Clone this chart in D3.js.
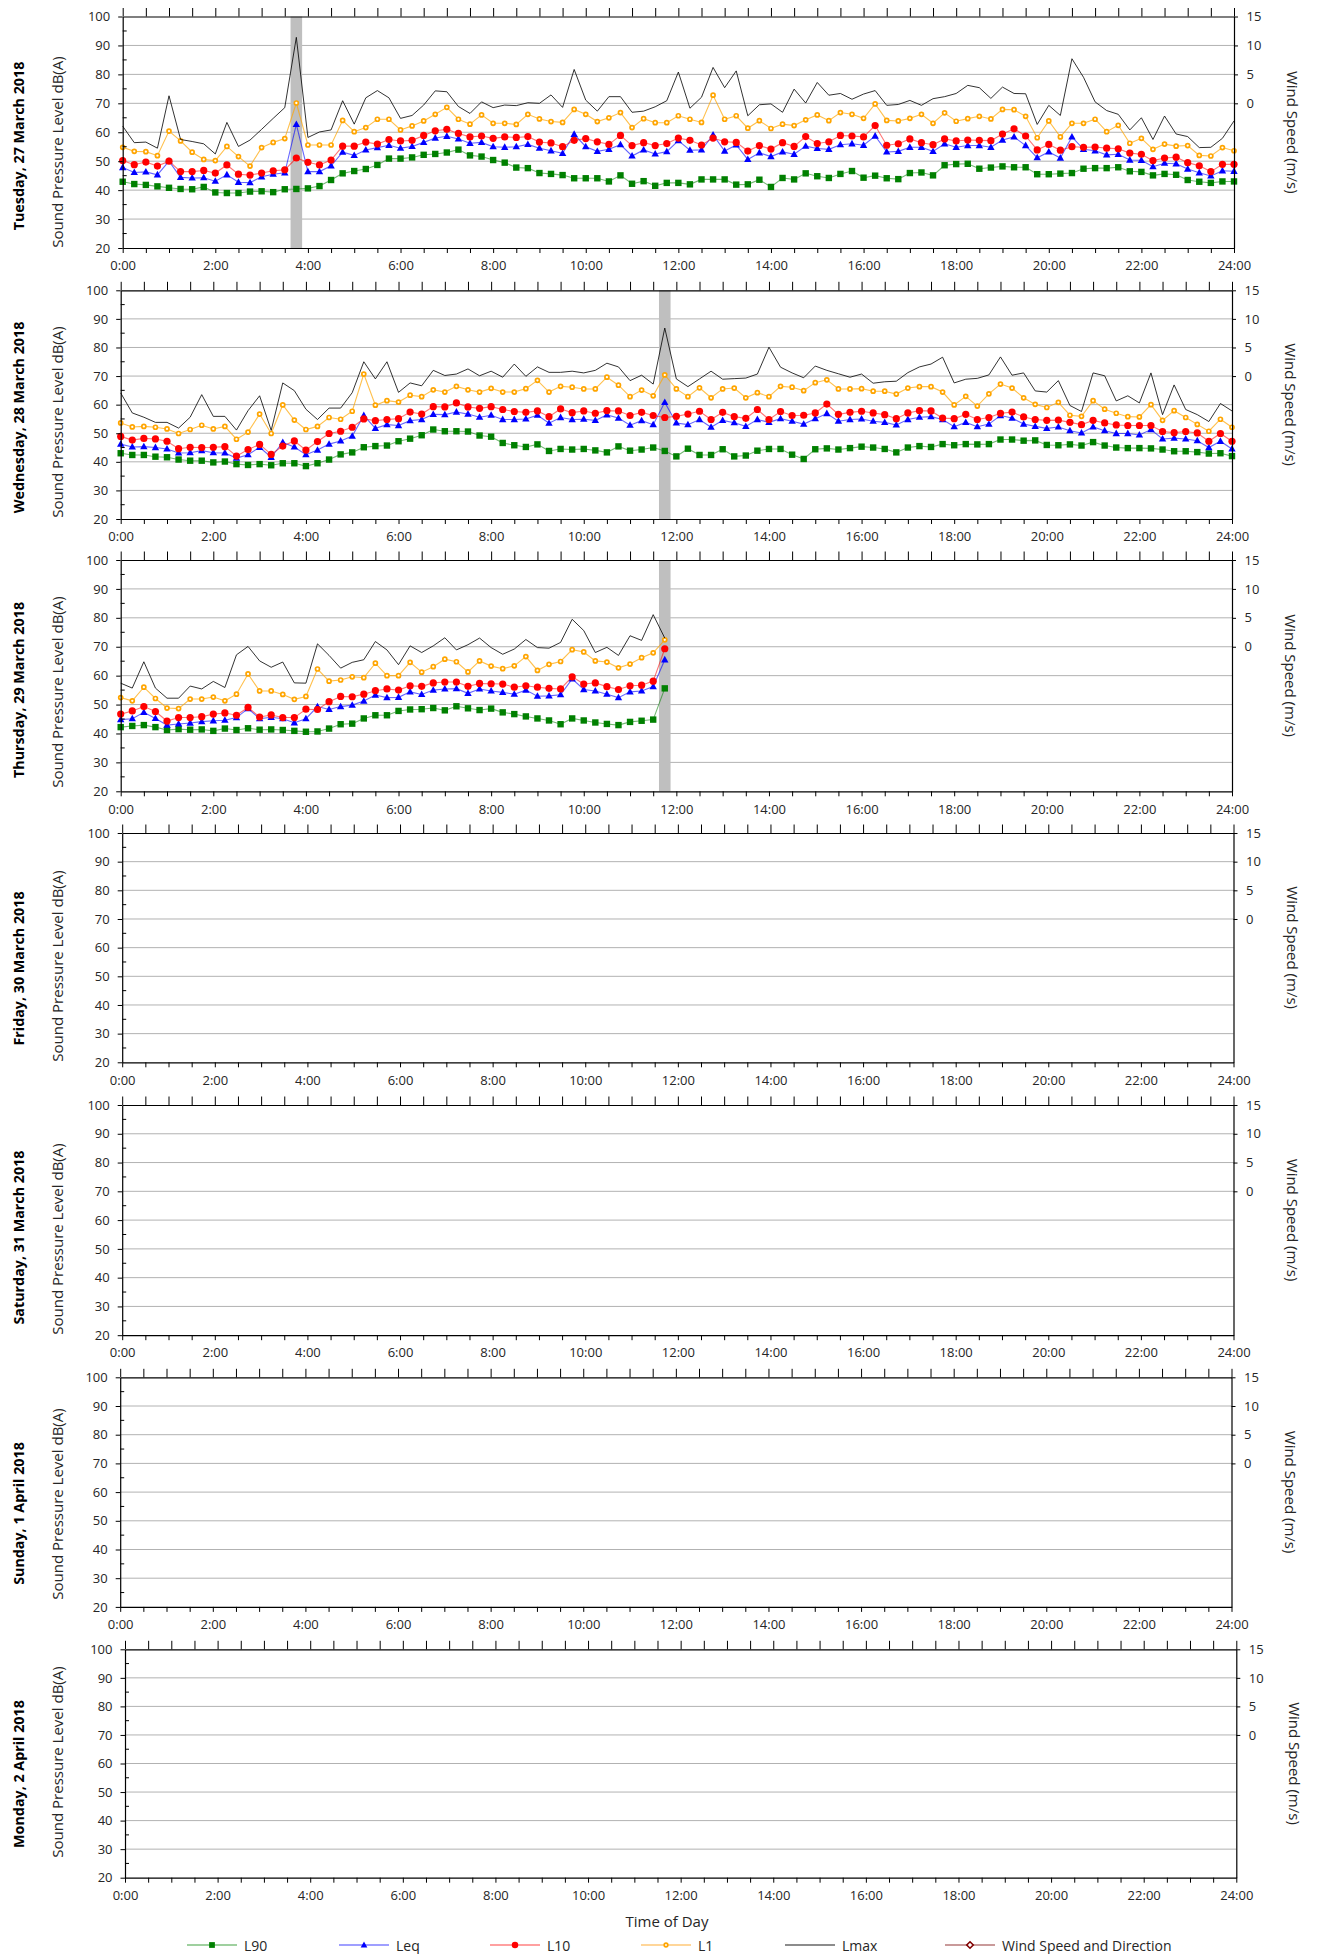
<!DOCTYPE html>
<html><head><meta charset="utf-8">
<script src="https://cdn.jsdelivr.net/npm/d3@7"></script>
<style>
body{margin:0;background:#fff}
svg{display:block}
text{font-family:"Open Sans","Noto Sans",sans-serif}
</style>
</head><body><div id="chart"></div>
<script>
// ---------------- DATA ----------------
const days = ["Tuesday, 27 March 2018","Wednesday, 28 March 2018","Thursday, 29 March 2018",
  "Friday, 30 March 2018","Saturday, 31 March 2018","Sunday, 1 April 2018","Monday, 2 April 2018"];
const seriesNames = ["L90","Leq","L10","L1","Lmax","Wind Speed and Direction"];
const timeTickLabels = ["0:00","2:00","4:00","6:00","8:00","10:00","12:00","14:00","16:00","18:00","20:00","22:00","24:00"];
const splTicks = [20,30,40,50,60,70,80,90,100];
const windTicks = [0,5,10,15];
const intervalHours = 0.25; // 15-minute measurement intervals
// Marked (shaded) intervals, hour of day, per day
const markedIntervals = [[3.75],[11.75],[11.75],[],[],[],[]];

// Day 1 — Tuesday 27 March 2018
const d1_L90 = [42.9,42.1,41.8,41.3,40.8,40.4,40.3,41.1,39.2,39.0,39.0,39.5,39.6,39.3,40.3,40.4,40.6,41.4,43.5,45.8,46.6,47.3,48.7,50.9,50.9,51.3,52.2,52.5,53.0,54.0,52.0,51.6,
 50.4,49.5,47.8,47.6,45.9,45.6,45.2,44.1,44.1,44.1,43.0,45.1,42.2,43.1,41.5,42.5,42.5,42.0,43.7,43.7,43.7,41.9,42.0,43.6,41.1,44.2,43.7,45.8,44.8,44.2,45.6,46.6,
 44.3,45.0,44.1,43.8,45.9,46.1,45.1,48.6,49.0,49.1,47.4,47.8,48.2,47.9,47.9,45.5,45.5,45.7,45.9,47.4,47.6,47.6,47.9,46.5,46.3,45.1,45.6,45.3,43.5,42.9,42.5,43.0,43.0];
const d1_Leq = [47.8,46.1,46.3,45.3,50.0,44.4,44.2,44.3,43.1,45.3,42.7,42.6,44.6,45.5,46.0,62.7,46.4,46.4,48.4,53.1,52.0,53.9,54.7,55.5,54.5,55.1,56.5,58.0,58.6,57.7,56.2,56.5,
 55.0,54.8,55.0,55.8,54.5,53.6,52.7,59.3,55.0,53.4,54.1,55.7,51.8,53.9,52.5,53.3,57.1,53.8,53.9,59.1,53.5,55.6,50.6,52.9,51.6,53.2,52.4,55.2,54.4,54.1,55.7,56.0,
 55.5,58.7,53.2,53.4,54.8,54.8,53.4,56.0,54.8,55.4,55.4,54.8,57.3,58.4,55.4,51.2,53.2,51.1,58.4,54.1,53.6,52.2,52.4,50.4,50.3,48.1,49.3,49.1,47.3,46.0,44.9,46.7,46.5];
const d1_L10 = [50.2,48.8,49.7,48.3,50.0,46.4,46.4,46.8,45.9,48.7,45.5,45.2,45.9,46.7,47.0,51.1,49.6,48.7,50.4,55.2,55.2,56.6,55.9,57.5,57.0,57.2,58.9,60.5,61.0,59.6,58.4,58.7,
 57.9,58.4,58.2,58.5,56.6,56.3,55.0,57.2,57.8,56.7,55.8,58.9,55.4,56.4,55.4,56.1,58.0,57.2,55.6,58.0,56.7,56.5,53.5,55.4,54.2,56.4,55.1,58.5,56.1,56.7,58.9,58.7,
 58.4,62.3,55.5,56.0,57.7,56.4,55.7,57.7,57.0,57.3,57.2,57.1,59.4,61.2,58.7,53.9,55.8,53.8,55.0,54.8,54.9,54.5,54.3,52.8,52.4,50.2,51.1,51.4,49.5,48.4,46.4,48.9,48.9];
const d1_L1 = [54.8,53.4,53.3,51.9,60.4,57.0,53.1,50.6,50.2,55.1,51.6,48.3,54.7,56.5,57.8,70.1,55.6,55.6,55.6,64.1,60.2,61.6,64.5,64.5,60.8,62.2,63.9,66.2,68.6,64.5,62.8,66.0,
 63.1,63.1,62.7,66.2,64.6,63.7,63.4,67.9,66.2,63.7,65.0,66.8,61.6,64.7,63.3,63.3,65.7,64.5,63.4,72.8,64.5,65.7,61.4,64.0,61.3,62.8,62.3,64.3,66.0,64.0,66.8,66.2,
 64.8,69.8,64.1,63.9,64.8,66.2,63.1,66.7,63.8,64.7,65.5,64.6,67.9,67.8,65.5,58.1,63.9,58.4,63.1,63.1,64.5,60.2,62.4,56.2,57.9,54.1,55.9,55.2,55.4,52.0,51.8,54.7,53.6];
const d1_Lmax = [62.1,56.4,56.6,54.5,72.6,57.5,56.8,56.0,52.5,63.4,55.1,57.3,61.0,64.8,68.5,92.8,58.2,60.1,60.8,70.9,62.8,71.9,74.4,71.9,64.8,65.8,69.4,74.3,74.0,68.9,66.5,70.5,
 68.5,69.4,69.2,70.2,70.0,72.9,68.6,81.7,71.1,67.3,72.3,72.3,66.9,67.3,68.8,70.9,80.8,68.3,72.1,82.4,75.4,81.2,65.7,69.5,69.8,66.9,74.9,70.1,77.2,72.8,73.4,71.4,
 73.2,74.4,69.3,69.6,71.0,69.3,71.6,72.3,73.4,76.2,75.4,71.7,75.6,73.4,73.3,62.7,69.3,65.8,85.4,79.0,70.5,67.5,66.2,60.8,65.0,57.5,65.6,59.4,58.5,54.7,54.8,57.9,63.9];

// Day 2 — Wednesday 28 March 2018
const d2_L90 = [43.0,42.4,42.4,41.8,41.6,40.8,40.4,40.4,39.8,40.1,39.2,38.9,39.2,38.8,39.5,39.5,38.5,39.5,40.8,42.6,43.3,45.1,45.5,45.7,47.2,48.1,49.3,51.3,50.7,50.7,50.6,49.2,
 48.8,46.6,45.8,45.2,46.1,43.8,44.5,44.3,44.5,44.0,43.3,45.4,43.9,44.3,45.0,43.8,41.9,44.6,42.4,42.4,44.4,41.9,42.2,43.9,44.5,44.5,42.5,41.0,44.4,44.7,44.3,44.8,
 45.3,45.0,44.5,43.3,45.0,45.5,45.2,46.2,45.8,46.2,46.1,46.2,47.8,47.8,47.4,47.5,45.9,45.8,46.1,45.7,46.9,45.7,45.0,44.8,44.8,44.7,44.3,43.7,43.7,43.4,42.9,43.0,42.0];
const d2_Leq = [46.2,45.2,45.3,45.0,44.5,43.1,43.2,43.9,43.2,43.1,41.3,42.5,45.1,41.6,46.8,45.2,42.5,44.1,46.2,47.3,49.0,56.2,51.7,53.0,52.7,54.4,54.8,56.6,56.5,57.4,56.7,55.6,
 56.3,54.8,54.8,55.0,56.3,53.5,55.5,54.8,54.9,54.5,56.4,55.3,52.8,54.4,53.0,60.8,53.6,53.0,54.8,52.1,54.5,53.7,52.4,54.8,53.8,55.1,54.2,53.2,55.1,56.9,54.2,54.8,
 55.0,54.2,53.8,52.9,54.8,55.6,55.8,54.8,52.3,53.8,52.3,53.2,56.2,55.3,53.2,52.4,51.7,52.2,50.9,50.1,52.2,50.9,49.9,49.9,49.4,51.3,48.0,48.3,48.0,47.4,45.0,47.2,44.5];
const d2_L10 = [48.9,47.6,48.2,48.0,47.2,44.6,45.1,45.0,45.1,45.3,42.0,44.3,46.1,42.6,45.5,47.3,44.1,47.1,49.9,50.7,52.1,55.0,54.4,54.8,55.1,57.4,56.7,59.3,59.2,60.6,59.2,58.7,
 59.3,58.3,57.6,57.3,57.8,55.8,58.5,57.2,57.8,57.0,57.9,57.8,56.2,57.3,56.2,55.5,55.9,56.7,57.7,54.8,57.3,55.8,55.2,58.3,54.8,57.6,56.2,56.3,57.1,60.2,56.6,57.3,
 57.7,57.1,56.5,55.1,57.1,57.9,57.8,55.3,55.1,56.6,54.8,55.5,57.0,57.4,55.7,54.8,54.5,54.6,53.8,53.0,54.5,53.6,52.9,52.7,52.7,52.7,50.6,50.2,50.6,50.1,47.2,49.9,47.2];
const d2_L1 = [53.6,52.2,52.4,52.1,51.5,49.9,51.3,52.8,51.5,52.4,47.9,50.4,56.7,49.9,59.9,54.6,51.3,52.4,55.5,54.9,57.7,70.7,59.8,61.4,60.9,63.3,62.8,65.2,64.4,66.4,65.2,64.4,
 65.7,64.4,64.4,65.6,68.5,64.4,66.4,66.1,65.5,65.5,69.6,66.8,62.8,65.1,63.1,70.4,65.5,62.8,65.9,62.4,65.5,65.8,62.4,64.2,62.8,66.4,66.1,64.9,67.7,68.7,65.5,65.5,
 65.6,64.7,64.7,63.7,65.8,66.3,66.3,64.4,59.9,62.9,59.5,63.8,67.2,65.8,62.4,60.1,59.0,60.8,56.3,55.9,61.4,58.4,57.0,55.8,55.7,60.0,54.5,57.9,55.5,53.1,50.7,54.9,52.1];
const d2_Lmax = [64.1,57.1,55.6,53.8,53.8,51.8,55.6,63.5,55.9,55.9,51.1,57.9,63.1,51.0,67.6,64.9,58.4,54.8,58.8,58.8,64.2,75.0,69.0,75.0,64.3,67.6,66.6,72.0,70.2,70.7,72.5,70.1,
 71.7,69.6,74.2,69.9,73.2,71.3,71.3,71.7,71.1,72.0,74.5,73.2,68.4,70.3,67.2,86.8,69.0,66.3,69.0,71.7,68.9,69.1,69.3,70.7,80.1,73.1,71.1,69.4,73.5,72.0,70.8,69.6,
 70.7,67.5,68.0,68.2,71.2,73.2,74.2,76.6,67.6,68.9,69.2,70.4,76.7,70.3,71.1,64.8,64.4,68.4,59.7,57.6,71.1,70.1,61.3,63.1,60.6,71.1,56.5,66.9,58.3,56.5,54.1,60.4,57.8];

// Day 3 — Thursday 29 March 2018 (data until 11:45)
const d3_L90 = [42.2,42.6,42.9,42.2,41.2,41.5,41.3,41.4,40.9,41.7,41.2,41.8,41.3,41.4,41.2,40.9,40.6,40.7,41.7,43.2,43.4,45.2,46.3,46.3,
 47.8,48.3,48.4,48.8,48.0,49.4,48.7,48.1,48.6,47.3,46.7,45.9,45.2,44.5,43.2,45.2,44.5,43.8,43.3,42.9,44.0,44.4,44.8,55.6];
const d3_Leq = [44.8,45.1,47.3,45.2,42.9,43.3,43.6,44.1,44.4,44.6,45.5,48.6,45.1,45.6,45.1,43.7,45.1,49.3,48.3,49.3,49.8,51.2,53.3,52.4,
 52.5,54.4,53.5,55.0,55.4,55.5,53.9,55.4,54.7,54.2,53.6,55.0,52.9,53.0,53.4,58.9,55.2,54.7,53.6,52.4,54.4,54.7,56.2,65.5];
const d3_L10 = [46.7,47.8,49.3,47.6,44.3,45.5,45.5,45.8,46.7,47.1,46.3,49.0,45.7,46.4,45.5,45.5,48.4,48.3,51.0,52.8,52.7,53.6,54.8,55.4,
 55.0,56.5,56.3,57.5,57.8,57.8,56.3,57.3,57.2,57.1,56.0,56.5,56.0,55.6,55.4,59.6,57.1,57.5,56.2,55.2,56.5,56.7,58.1,69.3];
const d3_L1 = [52.4,51.3,56.0,52.1,48.8,48.6,51.9,51.9,52.6,51.3,53.6,60.6,54.7,54.7,53.5,51.8,52.8,62.3,58.1,58.5,59.6,59.3,64.3,60.0,
 60.0,64.6,61.2,63.1,65.7,64.8,61.3,65.1,63.3,62.4,63.4,66.6,61.8,63.9,64.9,69.0,68.2,65.1,64.7,62.7,64.0,66.2,67.9,72.4];
const d3_Lmax = [57.4,55.7,64.8,55.7,52.2,52.2,56.4,55.4,58.0,55.9,67.2,70.1,65.1,62.9,64.7,57.5,57.4,71.0,67.0,62.6,64.6,65.5,71.8,68.9,
 63.8,70.3,68.0,70.3,73.1,68.9,70.7,73.0,69.7,67.4,69.2,72.5,69.7,69.5,71.5,79.5,75.6,68.0,69.8,67.0,73.8,72.2,81.1,73.0];

// Days 4–7: no measurements
const empty = [];

// table built from the arrays above (drawing order = legend order)
const dayTable = [
  [d1_L90,d1_Leq,d1_L10,d1_L1,d1_Lmax],
  [d2_L90,d2_Leq,d2_L10,d2_L1,d2_Lmax],
  [d3_L90,d3_Leq,d3_L10,d3_L1,d3_Lmax],
  [empty,empty,empty,empty,empty],
  [empty,empty,empty,empty,empty],
  [empty,empty,empty,empty,empty],
  [empty,empty,empty,empty,empty]
];

// ---------------- LAYOUT ----------------
const W = 1319, H = 1954;
const panelTop  = [16.5, 290.3, 560, 833, 1105, 1377.3, 1649.3];
const panelH    = [231.5, 228.7, 231.3, 229.3, 230.2, 229.6, 228.4];
const panelLeft = [122.7, 120.7, 120.7, 122.2, 122.2, 120.2, 125];
const plotW = 1111.3;
const dayLabelCY = [146, 417.5, 690, 968.5, 1237.5, 1513.5, 1774];
const splLabelCY = [152, 422, 692, 966, 1239, 1504, 1762];

const style = [
  {line:"#008000", lineOp:0.55, marker:"square", fill:"#008000", stroke:"#008000", legendLine:"#9fd09f"},
  {line:"#0000ff", lineOp:0.6, marker:"triangle", fill:"#0000ff", stroke:"#0000ff", legendLine:"#9f9fff"},
  {line:"#ff0000", lineOp:0.55, marker:"circle", fill:"#ff0000", stroke:"#ff0000", legendLine:"#ffa0a0"},
  {line:"#ffa500", lineOp:0.7, marker:"ring", fill:"#ffffff", stroke:"#ffa500", legendLine:"#ffd699"},
  {line:"#000000", lineOp:0.8, marker:null, legendLine:"#8c8c8c"},
  {line:"#8b0000", lineOp:0.5, marker:"diamond", fill:"#ffffff", stroke:"#800000", legendLine:"#c99a9a"}
];
const textColor = "#262626";
const TICK_FONT = 13, TITLE_FONT = 15, DAY_FONT = 14.3, LEGEND_FONT = 14;

const svg = d3.select("#chart").append("svg").attr("width",W).attr("height",H);
svg.append("rect").attr("width",W).attr("height",H).attr("fill","#fff");

function drawMarker(sel, type, cx, cy, st, scale=1){
  if(type==="square"){
    const s=6.4*scale;
    sel.append("rect").attr("x",cx-s/2).attr("y",cy-s/2).attr("width",s).attr("height",s).attr("fill",st.fill);
  } else if(type==="triangle"){
    const s=7.4*scale, h=6.6*scale;
    sel.append("path").attr("d",`M${cx},${cy-h*0.6}L${cx+s/2},${cy+h*0.4}L${cx-s/2},${cy+h*0.4}Z`).attr("fill",st.fill);
  } else if(type==="circle"){
    sel.append("circle").attr("cx",cx).attr("cy",cy).attr("r",3.6*scale).attr("fill",st.fill);
  } else if(type==="ring"){
    sel.append("circle").attr("cx",cx).attr("cy",cy).attr("r",2.0*scale).attr("fill",st.fill)
      .attr("stroke",st.stroke).attr("stroke-width",1.7);
  } else if(type==="diamond"){
    const s=3.6*scale;
    sel.append("path").attr("d",`M${cx},${cy-s}L${cx+s},${cy}L${cx},${cy+s}L${cx-s},${cy}Z`)
      .attr("fill",st.fill).attr("stroke",st.stroke).attr("stroke-width",1.6);
  }
}

function styleAxis(g){
  g.attr("font-family",null).attr("font-size",null);
  g.selectAll("text").attr("fill",textColor).style("font-size",TICK_FONT+"px");
  g.selectAll("line").attr("stroke","#000");
  g.selectAll("path.domain").attr("stroke","#000").attr("stroke-width",1.2);
}

days.forEach((dayName,d)=>{
  const top=panelTop[d], h=panelH[d], left=panelLeft[d], bottom=top+h, right=left+plotW;
  const x=d3.scaleLinear().domain([0,24]).range([left,right]);
  const y=d3.scaleLinear().domain([20,100]).range([bottom,top]);
  const yw=d3.scaleLinear().domain([-25,15]).range([bottom,top]);
  const g=svg.append("g");

  // gridlines
  g.append("g").selectAll("line").data(splTicks.filter(v=>v>20&&v<100)).join("line")
    .attr("x1",left).attr("x2",right).attr("y1",v=>y(v)).attr("y2",v=>y(v))
    .attr("stroke","#b2b2b2").attr("stroke-width",1);

  // marked intervals
  g.append("g").selectAll("rect").data(markedIntervals[d]).join("rect")
    .attr("x",t=>x(t-intervalHours/2)).attr("width",t=>x(t+intervalHours/2)-x(t-intervalHours/2))
    .attr("y",top).attr("height",h).attr("fill","#bfbfbf");

  // series
  const line=d3.line().x((v,i)=>x(i*intervalHours)).y(v=>y(v));
  dayTable[d].forEach((vals,s)=>{
    if(!vals.length) return;
    const st=style[s];
    const sg=g.append("g");
    sg.append("path").attr("d",line(vals)).attr("fill","none").attr("stroke",st.line)
      .attr("stroke-opacity",st.lineOp).attr("stroke-width",s===4?1:1.1);
    if(st.marker){
      vals.forEach((v,i)=>drawMarker(sg,st.marker,x(i*intervalHours),y(v),st));
    }
  });

  const halfHours=d3.range(0,24.01,0.5);
  const ax=g.append("g").attr("transform",`translate(0,${bottom})`)
    .call(d3.axisBottom(x).tickValues(halfHours).tickSize(5).tickSizeOuter(0).tickPadding(8)
      .tickFormat(t=> t%2===0 ? timeTickLabels[t/2] : ""));
  styleAxis(ax);
  const axT=g.append("g").attr("transform",`translate(0,${top})`)
    .call(d3.axisTop(x).tickValues(halfHours).tickSize(8.5).tickSizeOuter(0).tickFormat(""));
  styleAxis(axT);
  const ay=g.append("g").attr("transform",`translate(${left},0)`)
    .call(d3.axisLeft(y).tickValues(splTicks).tickSize(4.5).tickSizeOuter(0).tickPadding(8));
  styleAxis(ay);
  g.append("g").selectAll("line").data(d3.range(25,100,10)).join("line")
    .attr("x1",left).attr("x2",left+4).attr("y1",v=>y(v)).attr("y2",v=>y(v)).attr("stroke","#000");
  const ar=g.append("g").attr("transform",`translate(${right},0)`)
    .call(d3.axisRight(yw).tickValues(windTicks).tickSize(4).tickSizeOuter(0).tickPadding(8.5));
  styleAxis(ar);

  // labels
  g.append("text").attr("transform",`translate(18,${dayLabelCY[d]}) rotate(-90)`)
    .attr("text-anchor","middle").attr("dominant-baseline","central")
    .style("font-weight","bold").style("font-size",DAY_FONT+"px").attr("fill","#000").text(dayName);
  g.append("text").attr("transform",`translate(57,${splLabelCY[d]}) rotate(-90)`)
    .attr("text-anchor","middle").attr("dominant-baseline","central")
    .style("font-size",TITLE_FONT+"px").attr("fill",textColor).text("Sound Pressure Level dB(A)");
  g.append("text").attr("transform",`translate(${right+59},${(top+bottom)/2}) rotate(90)`)
    .attr("text-anchor","middle").attr("dominant-baseline","central")
    .style("font-size",TITLE_FONT+"px").attr("fill",textColor).text("Wind Speed (m/s)");
});

svg.append("text").attr("x",667).attr("y",1921).attr("text-anchor","middle").attr("dominant-baseline","central")
  .style("font-size",TITLE_FONT+"px").attr("fill",textColor).text("Time of Day");

const legendX=[187,339,490,641,785,945];
const legY=1945;
const lg=svg.append("g");
seriesNames.forEach((name,s)=>{
  const x0=legendX[s], st=style[s];
  lg.append("line").attr("x1",x0).attr("x2",x0+50).attr("y1",legY).attr("y2",legY)
    .attr("stroke",st.legendLine).attr("stroke-width",2);
  if(st.marker) drawMarker(lg,st.marker,x0+25,legY,st,0.9);
  lg.append("text").attr("x",x0+57).attr("y",legY).attr("dominant-baseline","central")
    .style("font-size",LEGEND_FONT+"px").attr("fill",textColor).text(name);
});
</script>
</body></html>
